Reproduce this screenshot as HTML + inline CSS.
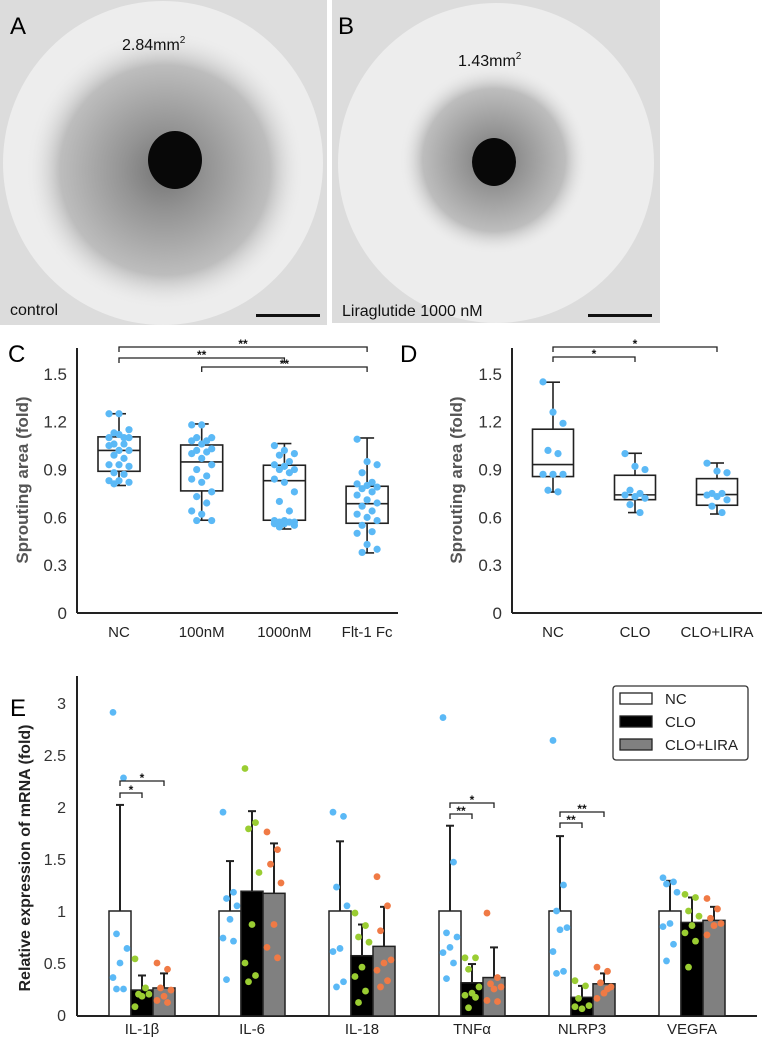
<!DOCTYPE html>
<html><head><meta charset="utf-8"><style>
html,body{margin:0;padding:0;background:#fff}
svg{display:block;font-family:"Liberation Sans",Arial,sans-serif}
</style></head><body>
<svg id="fig" width="775" height="1045" viewBox="0 0 775 1045" xmlns="http://www.w3.org/2000/svg">
<defs>
<radialGradient id="sprA" cx="50%" cy="50%" r="50%">
<stop offset="0" stop-color="#666"/><stop offset="0.3" stop-color="#8a8a8a"/><stop offset="0.75" stop-color="#b8b8b8"/><stop offset="1" stop-color="#eee" stop-opacity="0"/>
</radialGradient>
</defs>
<g>
<rect x="0" y="0" width="327" height="325" fill="#dcdcdc"/>
<ellipse cx="163" cy="163" rx="160" ry="162" fill="#ededed"/>
<circle cx="165" cy="170" r="140" fill="url(#sprA)" opacity="0.9"/>
<ellipse cx="175" cy="160" rx="27" ry="29" fill="#080808"/>
<text x="10" y="34" font-size="24" fill="#000">A</text>
<text x="122" y="50" font-size="16" fill="#111">2.84mm<tspan font-size="10" dy="-7">2</tspan></text>
<text x="10" y="315" font-size="16" fill="#111">control</text>
<rect x="256" y="314" width="64" height="3" fill="#111"/>
</g>
<g>
<rect x="332" y="0" width="328" height="323" fill="#dcdcdc"/>
<ellipse cx="496" cy="163" rx="158" ry="160" fill="#ededed"/>
<circle cx="494" cy="160" r="95" fill="url(#sprA)" opacity="0.9"/>
<ellipse cx="494" cy="162" rx="22" ry="24" fill="#080808"/>
<text x="338" y="34" font-size="24" fill="#000">B</text>
<text x="458" y="66" font-size="16" fill="#111">1.43mm<tspan font-size="10" dy="-7">2</tspan></text>
<text x="342" y="316" font-size="16" fill="#111">Liraglutide 1000 nM</text>
<rect x="588" y="314" width="64" height="3" fill="#111"/>
</g>
<g id="gC"></g>
<g id="gD"></g>
<g id="gE"></g>
</svg>
<script>
// Panel C data
const cCats = ["NC","100nM","1000nM","Flt-1 Fc"];
const cWhiskTop = [1.25,1.186,1.063,1.098];
const cQ3 = [1.105,1.054,0.927,0.795];
const cMed = [1.02,0.948,0.83,0.686];
const cQ1 = [0.889,0.766,0.582,0.563];
const cWhiskBot = [0.80,0.582,0.527,0.377];
const cPtsNC = [1.25,1.25,1.15,1.13,1.10,1.10,1.12,1.10,1.06,1.06,1.05,1.02,1.02,0.99,0.97,0.93,0.93,0.92,0.88,0.87,0.83,0.83,0.82,0.81];
const cPts100 = [1.18,1.18,1.10,1.10,1.08,1.08,1.06,1.03,1.02,1.01,1.00,0.97,0.93,0.90,0.86,0.84,0.82,0.76,0.73,0.69,0.64,0.62,0.58,0.58];
const cPts1000 = [1.05,1.02,1.00,0.99,0.95,0.93,0.92,0.90,0.90,0.88,0.84,0.82,0.76,0.70,0.64,0.58,0.58,0.57,0.57,0.57,0.56,0.56,0.55,0.54];
const cPtsFlt = [1.09,0.95,0.93,0.88,0.82,0.81,0.80,0.79,0.78,0.76,0.74,0.71,0.69,0.67,0.64,0.62,0.60,0.58,0.55,0.51,0.50,0.43,0.40,0.38];
const boxTicks = ["0","0.3","0.6","0.9","1.2","1.5"];
// Panel D data
const dCats = ["NC","CLO","CLO+LIRA"];
const dWhiskTop = [1.448,1.002,0.941];
const dQ3 = [1.153,0.864,0.843];
const dMed = [0.931,0.741,0.743];
const dQ1 = [0.856,0.711,0.676];
const dWhiskBot = [0.759,0.63,0.621];
const dPtsNC = [1.45,1.26,1.19,1.02,1.00,0.87,0.87,0.87,0.77,0.76];
const dPtsCLO = [1.00,0.92,0.90,0.77,0.75,0.74,0.73,0.72,0.68,0.63];
const dPtsLIRA = [0.94,0.89,0.88,0.75,0.75,0.74,0.73,0.71,0.67,0.63];
// Panel E data
const eGenes = ["IL-1β","IL-6","IL-18","TNFα","NLRP3","VEGFA"];
const eSeries = ["NC","CLO","CLO+LIRA"];
const eMeanNC = [1,1,1,1,1,1];
const eMeanCLO = [0.24,1.19,0.57,0.31,0.17,0.89];
const eMeanLIRA = [0.26,1.17,0.66,0.36,0.30,0.91];
const eErrNC = [2.02,1.48,1.67,1.82,1.72,1.29];
const eErrCLO = [0.38,1.96,0.87,0.49,0.28,1.13];
const eErrLIRA = [0.40,1.65,1.04,0.65,0.40,1.04];
const ePtsNC = [[2.91,2.28,0.78,0.64,0.50,0.36,0.25,0.25],[1.95,1.18,1.12,1.05,0.92,0.74,0.71,0.34],[1.95,1.91,1.23,1.05,0.64,0.61,0.32,0.27],[2.86,1.47,0.79,0.75,0.65,0.60,0.50,0.35],[2.64,1.25,1.0,0.84,0.82,0.61,0.42,0.40],[1.32,1.28,1.26,1.18,0.88,0.85,0.68,0.52]];
const ePtsCLO = [[0.54,0.26,0.20,0.20,0.18,0.08],[2.37,1.85,1.79,1.37,0.87,0.50,0.38,0.32],[0.98,0.86,0.75,0.70,0.46,0.37,0.23,0.12],[0.55,0.55,0.44,0.27,0.21,0.19,0.17,0.07],[0.33,0.28,0.16,0.09,0.06,0.08],[1.16,1.13,1.0,0.95,0.86,0.79,0.71,0.46]];
const ePtsLIRA = [[0.50,0.44,0.26,0.24,0.18,0.14,0.12],[1.76,1.59,1.45,1.27,0.87,0.65,0.55],[1.33,1.05,0.81,0.53,0.50,0.43,0.33,0.27],[0.98,0.36,0.30,0.27,0.25,0.14,0.13],[0.46,0.42,0.31,0.27,0.21,0.16,0.25],[1.12,1.02,0.93,0.88,0.86,0.77]];
const eTicks = ["0","0.5","1","1.5","2","2.5","3"];

const NS="http://www.w3.org/2000/svg";
function mk(parent,tag,attrs,text){const e=document.createElementNS(NS,tag);for(const k in attrs)e.setAttribute(k,attrs[k]);if(text!==undefined)e.textContent=text;parent.appendChild(e);return e;}

function boxPanel(g,opt){
  const y=v=>opt.y0-v*opt.unit;
  const x=i=>opt.xStart+i*opt.step;
  let e;
  e=mk(g,'line',{x1:opt.ax,y1:opt.yTop,x2:opt.ax,y2:opt.y0,stroke:'#222','stroke-width':2});
  
  
  e=mk(g,'line',{x1:opt.ax,y1:opt.y0,x2:opt.axR,y2:opt.y0,stroke:'#222','stroke-width':2});
  
  
  boxTicks.forEach(t=>{
    e=mk(g,'text',{x:opt.ax-10,y:y(parseFloat(t))+6,'font-size':17,'text-anchor':'end',fill:'#333'},t);
    
    
  });
  e=mk(g,'text',{transform:`translate(${opt.titleX},${opt.titleY}) rotate(-90)`,'font-size':17,'font-weight':'bold','text-anchor':'middle',fill:'#555'},'Sprouting area (fold)');
  
  
  opt.cats.forEach((c,i)=>{
    const cx=x(i),w=opt.bw;
    e=mk(g,'text',{x:cx,y:opt.y0+24,'font-size':15,'text-anchor':'middle',fill:'#222'},c);
    
    
    const bg=mk(g,'g',{});
    
    
    mk(bg,'line',{x1:cx,y1:y(opt.top[i]),x2:cx,y2:y(opt.q3[i]),stroke:'#222','stroke-width':1.6});
    mk(bg,'line',{x1:cx,y1:y(opt.q1[i]),x2:cx,y2:y(opt.bot[i]),stroke:'#222','stroke-width':1.6});
    mk(bg,'line',{x1:cx-7,y1:y(opt.top[i]),x2:cx+7,y2:y(opt.top[i]),stroke:'#222','stroke-width':1.6});
    mk(bg,'line',{x1:cx-7,y1:y(opt.bot[i]),x2:cx+7,y2:y(opt.bot[i]),stroke:'#222','stroke-width':1.6});
    mk(bg,'rect',{x:cx-w/2,y:y(opt.q3[i]),width:w,height:y(opt.q1[i])-y(opt.q3[i]),fill:'none',stroke:'#222','stroke-width':1.6});
    mk(bg,'line',{x1:cx-w/2,y1:y(opt.med[i]),x2:cx+w/2,y2:y(opt.med[i]),stroke:'#222','stroke-width':1.6});
    opt.pts[i].forEach((v,j)=>{
      const off=((j*7)%5-2)*5;
      e=mk(g,'circle',{cx:cx+off,cy:y(v),r:3.6,fill:'#5bb9f6'});
      
      
    });
  });
  opt.brackets.forEach(b=>{
    const x1=x(b[0]),x2=x(b[1]),yy=b[2];
    e=mk(g,'path',{d:`M${x1},${yy+5}V${yy}H${x2}V${yy+5}`,fill:'none',stroke:'#222','stroke-width':1.3});
    
    
    e=mk(g,'text',{x:(x1+x2)/2,y:yy+1,'font-size':12,'font-weight':'bold','text-anchor':'middle',fill:'#111'},b[3]);
    
    
  });
}
const gC=document.getElementById('gC');
let t=mk(gC,'text',{x:8,y:362,'font-size':24,fill:'#000'},'C');


boxPanel(gC,{y0:613,unit:159.4,yTop:348,ax:77,axR:398,xStart:119,step:82.7,bw:42,titleX:28,titleY:480,
  cats:cCats,top:cWhiskTop,q3:cQ3,med:cMed,q1:cQ1,bot:cWhiskBot,pts:[cPtsNC,cPts100,cPts1000,cPtsFlt],
  brackets:[[0,3,347,'**'],[0,2,358,'**'],[1,3,367,'**']]});
const gD=document.getElementById('gD');
t=mk(gD,'text',{x:400,y:362,'font-size':24,fill:'#000'},'D');


boxPanel(gD,{y0:613,unit:159.4,yTop:348,ax:512,axR:762,xStart:553,step:82,bw:41,titleX:462,titleY:480,
  cats:dCats,top:dWhiskTop,q3:dQ3,med:dMed,q1:dQ1,bot:dWhiskBot,pts:[dPtsNC,dPtsCLO,dPtsLIRA],
  brackets:[[0,2,347,'*'],[0,1,357,'*']]});

// Panel E
const gE=document.getElementById('gE');
const ey=v=>1015-v*104;
const gx=i=>142+i*110;
let e;
e=mk(gE,'text',{x:10,y:716,'font-size':24,fill:'#000'},'E');


e=mk(gE,'line',{x1:77,y1:676,x2:77,y2:1016,stroke:'#222','stroke-width':2});


e=mk(gE,'line',{x1:77,y1:1016,x2:757,y2:1016,stroke:'#222','stroke-width':2});


eTicks.forEach(tk=>{
  e=mk(gE,'text',{x:66,y:ey(parseFloat(tk))+6,'font-size':16,'text-anchor':'end',fill:'#333'},tk);
  
  
});
e=mk(gE,'text',{transform:'translate(30,858) rotate(-90)','font-size':16,'font-weight':'bold','text-anchor':'middle',fill:'#222'},'Relative expression of mRNA (fold)');


const fills=['#fff','#000','#808080'];
const ptCol=['#5bb9f6','#9acd32','#f07a45'];
const means=[eMeanNC,eMeanCLO,eMeanLIRA], errs=[eErrNC,eErrCLO,eErrLIRA], pts=[ePtsNC,ePtsCLO,ePtsLIRA];
eGenes.forEach((gname,i)=>{
  e=mk(gE,'text',{x:gx(i),y:1034,'font-size':15,'text-anchor':'middle',fill:'#222'},gname);
  
  
  for(let s=0;s<3;s++){
    const cx=gx(i)+(s-1)*22;
    mk(gE,'line',{x1:cx,y1:ey(errs[s][i]),x2:cx,y2:ey(means[s][i]),stroke:'#222','stroke-width':2});
    mk(gE,'line',{x1:cx-4,y1:ey(errs[s][i]),x2:cx+4,y2:ey(errs[s][i]),stroke:'#222','stroke-width':2});
    e=mk(gE,'rect',{x:cx-11,y:ey(means[s][i]),width:22,height:1016-ey(means[s][i]),fill:fills[s],stroke:'#222','stroke-width':1.5});
    
    
    pts[s][i].forEach((v,j)=>{
      const off=((j*3)%5-2)*3.5;
      e=mk(gE,'circle',{cx:cx+off,cy:ey(v),r:3.4,fill:ptCol[s]});
      
      
    });
  }
});
const eBr=[[0,1,793,'*'],[0,2,781,'*'],[3,1,814,'**'],[3,2,803,'*'],[4,1,823,'**'],[4,2,812,'**']];
eBr.forEach(b=>{
  const x1=gx(b[0])-22,x2=gx(b[0])+(b[1]-1)*22,yy=b[2];
  e=mk(gE,'path',{d:`M${x1},${yy+5}V${yy}H${x2}V${yy+5}`,fill:'none',stroke:'#222','stroke-width':1.3});
  
  
  e=mk(gE,'text',{x:(x1+x2)/2,y:yy+1,'font-size':12,'font-weight':'bold','text-anchor':'middle',fill:'#111'},b[3]);
  
  
});
const lg=mk(gE,'g',{});


mk(lg,'rect',{x:613,y:686,width:135,height:74,rx:3,fill:'#fff',stroke:'#333','stroke-width':1.3});
eSeries.forEach((s,k)=>{
  const yy=698+k*23;
  e=mk(lg,'rect',{x:620,y:yy-5,width:32,height:11,fill:fills[k],stroke:'#222','stroke-width':1.3});
  
  
  e=mk(lg,'text',{x:665,y:yy+6,'font-size':15,fill:'#222'},s);
  
  
});
</script>
</body></html>
